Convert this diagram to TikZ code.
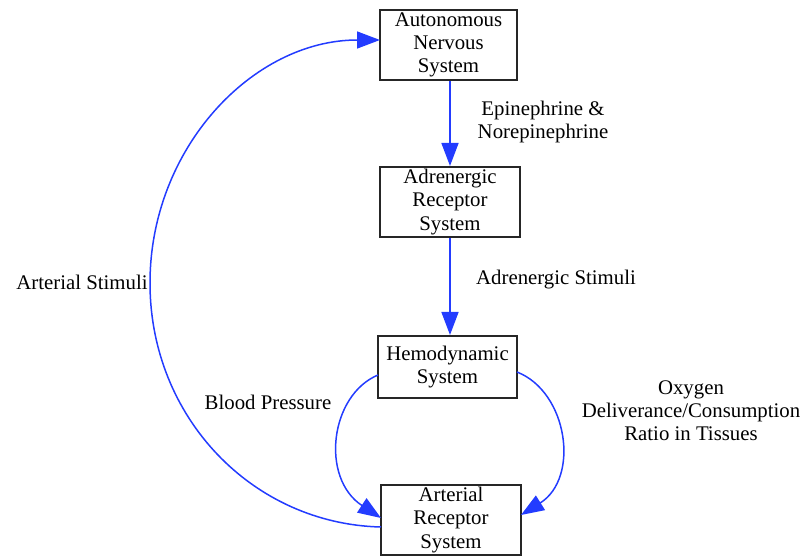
\documentclass[tikz,border=0pt]{standalone}
\usepackage{fontspec}
\setmainfont{Liberation Serif}
\usetikzlibrary{arrows.meta}
\definecolor{arrblue}{RGB}{35,60,255}
\tikzset{
  box/.style={draw=black!85, line width=1pt, fill=white, align=center, inner sep=0pt,
              font=\fontsize{10.4}{11.6}\selectfont},
  lbl/.style={align=center, inner sep=0pt, font=\fontsize{10.4}{11.6}\selectfont},
  flow/.style={draw=arrblue, line width=0.75pt, -{Triangle[length=11.5pt,width=8.5pt]}},
}
\begin{document}
\begin{tikzpicture}[x=0.5pt,y=-0.5pt]
\useasboundingbox (0,0) rectangle (805,556);
\node[box, minimum width=68.5pt, minimum height=35pt] (ans) at (448.5,45) {Autonomous\\Nervous\\System};
\node[box, minimum width=70pt, minimum height=35pt] (adr) at (450,202) {Adrenergic\\Receptor\\System};
\node[box, minimum width=69.5pt, minimum height=31pt] (hemo) at (447.5,367) {Hemodynamic\\System};
\node[box, minimum width=70pt, minimum height=35pt] (art) at (451,520) {Arterial\\Receptor\\System};

\coordinate (ansin) at (380,40);
\coordinate (hl) at (378,375);
\coordinate (hr) at (517,372);
\coordinate (al) at (381,518);
\coordinate (ar) at (521,515);
\coordinate (ao) at (381,527);
\coordinate (lm) at (150,283);

\draw[flow] (adr.north |- ans.south) -- (adr.north);
\draw[flow] (adr.south) -- (adr.south |- hemo.north);
\draw[flow] (hl) .. controls (330,395) and (320,478) .. (al);
\draw[flow] (hr) .. controls (568,392) and (580,478) .. (ar);
\draw[flow] (ao) .. controls (253,524) and (150,418) .. (lm) .. controls (150,148) and (253,40) .. (ansin);

\node[lbl] (l1) at (543,122) {Epinephrine \&\\Norepinephrine};
\node[lbl] (l2) at (556,280) {Adrenergic Stimuli};
\node[lbl] (l3) at (82,282) {Arterial Stimuli};
\node[lbl] (l4) at (268,402) {Blood Pressure};
\node[lbl] (l5) at (691,411) {Oxygen\\Deliverance/Consumption\\Ratio in Tissues};
\end{tikzpicture}
\end{document}
